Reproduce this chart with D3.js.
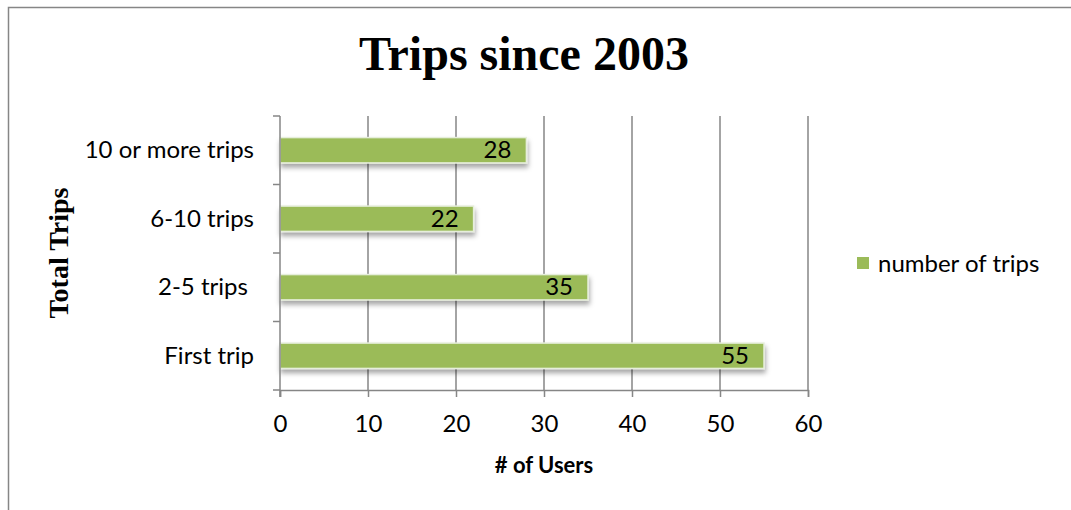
<!DOCTYPE html>
<html>
<head>
<meta charset="utf-8">
<script src="https://cdn.jsdelivr.net/npm/d3@7"></script>
<style>
  body { margin: 0; background: #fff; }
  text { font-family: Lato, "Open Sans", sans-serif; }
</style>
</head>
<body>
<div id="chart"></div>
<script>
// categories and values (top to bottom)
var categories = ["10 or more trips", "6-10 trips", "2-5 trips ", "First trip"];
var trips = [28, 22, 35, 55];
var xTicks = [0, 10, 20, 30, 40, 50, 60];
var seriesName = "number of trips";

var svg = d3.select("#chart")
    .append("svg")
    .attr("width", 1071)
    .attr("height", 510);

// outer frame (right and bottom fall off the picture)
svg.append("rect")
    .attr("x", 8.5).attr("y", 7.5)
    .attr("width", 1080).attr("height", 520)
    .attr("fill", "none")
    .attr("stroke", "#868686")
    .attr("stroke-width", 1.5);

var plotLeft = 280, plotRight = 808, plotTop = 116, plotBottom = 390;

var x = d3.scaleLinear().domain([0, 60]).range([plotLeft, plotRight]);
var y = d3.scaleBand().domain(categories).range([plotTop, plotBottom]).paddingInner(0.63).paddingOuter(0.315);

var defs = svg.append("defs");
var f = defs.append("filter").attr("id", "shadow").attr("x", "-5%").attr("y", "-30%").attr("width", "110%").attr("height", "180%");
f.append("feDropShadow").attr("dx", 1).attr("dy", 4).attr("stdDeviation", 2.5)
    .attr("flood-color", "#000").attr("flood-opacity", 0.35);

// vertical gridlines
svg.append("g")
    .selectAll("line")
    .data(xTicks.slice(1))
    .join("line")
    .attr("x1", d => x(d)).attr("x2", d => x(d))
    .attr("y1", plotTop).attr("y2", plotBottom)
    .attr("stroke", "#868686")
    .attr("stroke-width", 1.5);

// bars
svg.append("g")
    .selectAll("rect")
    .data(trips)
    .join("rect")
    .attr("x", x(0))
    .attr("y", (d, i) => y(categories[i]))
    .attr("width", d => x(d) - x(0))
    .attr("height", y.bandwidth())
    .attr("fill", "#9bbb59")
    .attr("stroke", "#e6eedb")
    .attr("stroke-width", 1.5)
    .attr("filter", "url(#shadow)");

// data labels
svg.append("g")
    .selectAll("text")
    .data(trips)
    .join("text")
    .attr("x", d => x(d) - 15)
    .attr("y", (d, i) => y(categories[i]) + y.bandwidth() / 2 + 8)
    .attr("text-anchor", "end")
    .attr("font-size", 24)
    .attr("fill", "#000")
    .text(d => d);

// x axis
var xAxis = svg.append("g")
    .attr("transform", "translate(0," + plotBottom + ")")
    .call(d3.axisBottom(x).tickValues(xTicks).tickSize(7).tickPadding(18));
xAxis.select(".domain").attr("stroke", "#868686").attr("stroke-width", 1.5);
xAxis.selectAll(".tick line").attr("stroke", "#868686").attr("stroke-width", 1.5);
xAxis.selectAll(".tick text").attr("font-size", 24).attr("fill", "#000")
    .style("font-family", "Lato, sans-serif");

// y axis: ticks sit between categories
var yAxisG = svg.append("g");
yAxisG.append("line")
    .attr("x1", plotLeft).attr("x2", plotLeft)
    .attr("y1", plotTop).attr("y2", plotBottom + 7)
    .attr("stroke", "#868686").attr("stroke-width", 1.5);
var step = (plotBottom - plotTop) / categories.length;
yAxisG.selectAll(".yt")
    .data(d3.range(categories.length + 1))
    .join("line")
    .attr("class", "yt")
    .attr("x1", plotLeft - 7).attr("x2", plotLeft)
    .attr("y1", d => plotTop + d * step).attr("y2", d => plotTop + d * step)
    .attr("stroke", "#868686").attr("stroke-width", 1.5);
yAxisG.selectAll("text")
    .data(categories)
    .join("text")
    .attr("x", 254)
    .attr("y", d => y(d) + y.bandwidth() / 2 + 8)
    .attr("text-anchor", "end")
    .attr("font-size", 24)
    .attr("fill", "#000")
    .style("white-space", "pre")
    .text(d => d);

// title
svg.append("text")
    .attr("x", 524).attr("y", 70)
    .attr("text-anchor", "middle")
    .style("font-family", "'Liberation Serif', 'Times New Roman', serif")
    .attr("font-weight", "bold")
    .attr("font-size", 48)
    .text("Trips since 2003");

// axis titles
svg.append("text")
    .attr("transform", "translate(68,253) rotate(-90)")
    .attr("text-anchor", "middle")
    .style("font-family", "'Liberation Serif', 'Times New Roman', serif")
    .attr("font-weight", "bold")
    .attr("font-size", 28)
    .text("Total Trips");

svg.append("text")
    .attr("x", 544).attr("y", 473)
    .attr("text-anchor", "middle")
    .attr("font-weight", "bold")
    .attr("font-size", 22)
    .text("# of Users");

// legend
var legend = svg.append("g").attr("transform", "translate(857,257)");
legend.append("rect").attr("width", 12).attr("height", 12).attr("fill", "#9bbb59");
legend.append("text").attr("x", 21).attr("y", 15).attr("font-size", 24).text(seriesName);
</script>
</body>
</html>
